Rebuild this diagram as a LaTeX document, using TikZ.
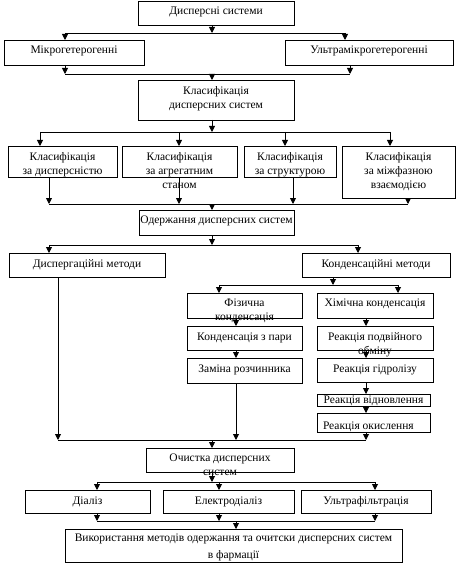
\documentclass[tikz,border=0pt]{standalone}
\usepackage{fontspec}
\setmainfont{Liberation Serif}
\usetikzlibrary{arrows.meta}
\tikzset{
  box/.style={draw, line width=0.9pt, inner sep=0pt, outer sep=0pt, rectangle},
  lbl/.style={inner sep=0pt, outer sep=0pt, anchor=north, align=center,
              font=\fontsize{11.5}{14}\selectfont},
  arr/.style={line width=0.9pt, -{Triangle[width=6pt,length=6pt]}},
  ln/.style={line width=0.9pt},
}
\newcommand\fs{\rule{0pt}{9pt}}
% [label opts] name x1 y1 x2 y2 text-offset text
\newcommand\bx[8][]{%
  \pgfmathsetmacro\bw{#5-#3}\pgfmathsetmacro\bh{#6-#4}%
  \pgfmathsetmacro\bcx{(#3+#5)/2}\pgfmathsetmacro\bcy{(#4+#6)/2}%
  \node[box, minimum width=\bw pt, minimum height=\bh pt] (#2) at (\bcx,\bcy) {};
  \node[lbl,#1] (#2t) at ([yshift=-#7pt]#2.north) {\fs#8};
}
\begin{document}
\begin{tikzpicture}[x=1pt,y=-1pt]
\useasboundingbox (0,0) rectangle (457,564);
\bx{b1}{138}{1}{294}{25}{5}{Дисперсні системи}
\bx{b2}{4}{40}{144}{65}{5}{Мікрогетерогенні}
\bx{b3}{285}{40}{453}{65}{5}{Ультрамікрогетерогенні}
\bx{b4}{138}{80}{294}{120}{5.5}{Класифікація\\дисперсних систем}
\bx{b5}{8}{146}{117}{177}{5.5}{Класифікація\\за дисперсністю}
\bx{b6}{122}{146}{237}{177}{5.5}{Класифікація\\за агрегатним\\станом}
\bx{b7}{244}{146}{336}{177}{5.5}{Класифікація\\за структурою}
\bx{b8}{342}{146}{455}{198}{5.5}{Класифікація\\за міжфазною\\взаємодією}
\bx{b9}{139}{210}{294}{235}{4.5}{Одержання дисперсних систем}
\bx{b10}{9}{253}{165}{277}{5}{Диспергаційні методи}
\bx{b11}{302}{253}{450}{277}{5}{Конденсаційні методи}
\bx{b12}{187}{293}{302}{318}{4.5}{Фізична\\конденсація}
\bx{b13}{317}{293}{433}{318}{4.5}{Хімічна конденсація}
\bx{b14}{187}{326}{302}{350}{5}{Конденсація з пари}
\bx{b15}{187}{358}{302}{383}{5}{Заміна розчинника}
\bx{b16}{317}{326}{433}{350}{5.5}{Реакція подвійного\\обміну}
\bx{b17}{317}{358}{433}{382}{5}{Реакція гідролізу}
\bx{b18}{317}{394}{430}{406}{0.5}{Реакція відновлення}
\bx[anchor=north west, xshift=-50.5pt]{b19}{317}{413}{430}{432}{7.5}{Реакція окислення}
\bx{b20}{146}{448}{294}{472}{4.5}{Очистка дисперсних\\систем}
\bx{b21}{25}{490}{150}{513}{5}{Діаліз}
\bx{b22}{163}{490}{294}{513}{5}{Електродіаліз}
\bx{b23}{301}{490}{431}{513}{5}{Ультрафільтрація}
\bx[font=\fontsize{11.5}{16.5}\selectfont]{b24}{65}{529}{402}{562}{3.5}{Використання методів одержання та очитски дисперсних систем\\в фармації}
% level 1
\draw[arr] (212,0 |- b1.south) -- (212,33);
\draw[ln] (65,33) -- (345,33);
\draw[arr] (65,33) -- (65,0 |- b2.north);
\draw[arr] (345,33) -- (345,0 |- b3.north);
% level 2
\draw[arr] (65,0 |- b2.south) -- (65,74);
\draw[arr] (350,0 |- b3.south) -- (350,74);
\draw[ln] (65,74) -- (350,74);
\draw[arr] (212,74) -- (212,0 |- b4.north);
% level 3
\draw[arr] (212,0 |- b4.south) -- (212,132);
\draw[ln] (40,132) -- (390,132);
\foreach \x/\n in {40/b5,179/b6,285/b7,390/b8}
  \draw[arr] (\x,132) -- (\x,0 |- \n.north);
% level 4
\foreach \x/\n in {49/b5,179/b6,293/b7,408/b8}
  \draw[arr] (\x,0 |- \n.south) -- (\x,204);
\draw[ln] (49,204) -- (408,204);
\draw[arr] (212,204) -- (212,0 |- b9.north);
% level 5
\draw[arr] (212,0 |- b9.south) -- (212,245);
\draw[ln] (49,245) -- (358,245);
\draw[arr] (49,245) -- (49,0 |- b10.north);
\draw[arr] (358,245) -- (358,0 |- b11.north);
% level 6
\draw[arr] (333,0 |- b11.south) -- (333,285);
\draw[ln] (219,285) -- (398,285);
\draw[arr] (219,285) -- (219,0 |- b12.north);
\draw[arr] (398,285) -- (398,0 |- b13.north);
% left chain
\draw[arr] (236,0 |- b12.south) -- (236,0 |- b14.north);
\draw[arr] (236,0 |- b14.south) -- (236,0 |- b15.north);
\draw[arr] (236,0 |- b15.south) -- (236,440);
% right chain
\draw[arr] (366,0 |- b13.south) -- (366,0 |- b16.north);
\draw[arr] (366,0 |- b16.south) -- (366,0 |- b17.north);
\draw[arr] (366,0 |- b17.south) -- (366,0 |- b18.north);
\draw[arr] (366,0 |- b18.south) -- (366,0 |- b19.north);
\draw[arr] (366,0 |- b19.south) -- (366,440);
% dispersion methods
\draw[arr] (58,0 |- b10.south) -- (58,440);
\draw[ln] (58,440) -- (366,440);
\draw[arr] (212,440) -- (212,0 |- b20.north);
% purification
\draw[arr] (212,0 |- b20.south) -- (212,482);
\draw[ln] (97,482) -- (375,482);
\foreach \x/\n in {97/b21,219/b22,375/b23}
  \draw[arr] (\x,482) -- (\x,0 |- \n.north);
\foreach \x/\n in {97/b21,219/b22,375/b23}
  \draw[arr] (\x,0 |- \n.south) -- (\x,521);
\draw[ln] (97,521) -- (375,521);
\draw[arr] (236,521) -- (236,0 |- b24.north);
\end{tikzpicture}
\end{document}
